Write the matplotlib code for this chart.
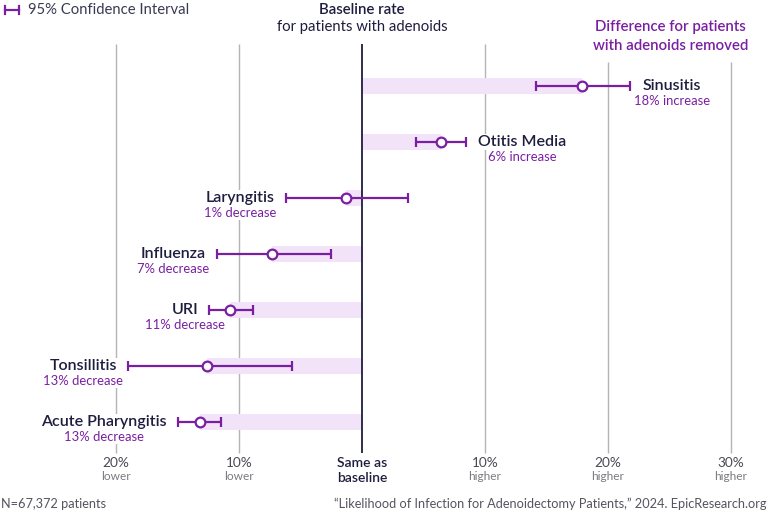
import numpy as np
import matplotlib
matplotlib.use("Agg")
import matplotlib.pyplot as plt

plt.rcParams['font.family'] = ['Lato', 'DejaVu Sans']

# Data (percent difference vs baseline)
# -------------------------------------------------------------------
conditions = ["Sinusitis", "Otitis Media", "Laryngitis", "Influenza",
              "URI", "Tonsillitis", "Acute Pharyngitis"]
diff = [17.9, 6.4, -1.3, -7.35, -10.7, -12.6, -13.2]
ci_low = [14.15, 4.4, -6.2, -11.8, -12.4, -19.0, -14.95]
ci_high = [21.8, 8.45, 3.7, -2.55, -8.85, -5.7, -11.5]
change_labels = ["18% increase", "6% increase", "1% decrease", "7% decrease",
                 "11% decrease", "13% decrease", "13% decrease"]

tick_vals = [-20, -10, 0, 10, 20, 30]
tick_top = ["20%", "10%", "Same as", "10%", "20%", "30%"]
tick_bottom = ["lower", "lower", "baseline", "higher", "higher", "higher"]

PURPLE = "#7a1fa2"
NAVY = "#1f1d3f"
BAR = "#f2e3f9"
GRID = "#b4b4b4"

# Frame
# -------------------------------------------------------------------
fig = plt.figure(figsize=(7.68, 5.12), dpi=100)
ax = fig.add_axes([0, 0, 1, 1])
ax.set_xlim(-362 / 12.3, (768 - 362) / 12.3)
ax.set_ylim((512 - 86) / 56, -86 / 56)
ax.axis("off")

rows = np.arange(len(conditions))

# grid lines
for v in tick_vals:
    if v == 0:
        ax.vlines(v, -0.75, 6.55, color=NAVY, lw=1.3, zorder=2)
    else:
        top = -0.43 if v >= 20 else -0.75
        ax.vlines(v, top, 6.55, color=GRID, lw=1.0, zorder=1)

# bars from baseline to estimate
ax.barh(rows, diff, height=0.3, color=BAR, zorder=1.5)

# confidence intervals
err = [np.array(diff) - np.array(ci_low), np.array(ci_high) - np.array(diff)]
ax.errorbar(diff, rows, xerr=err, fmt="o", color=PURPLE, ecolor=PURPLE,
            elinewidth=1.6, capsize=3.6, capthick=1.6, markersize=7,
            markerfacecolor="white", markeredgecolor=PURPLE,
            markeredgewidth=1.6, zorder=4)

# labels next to CI
fig.canvas.draw()
renderer = fig.canvas.get_renderer()
for i, name in enumerate(conditions):
    if diff[i] >= 0:
        xy, off, ha = (ci_high[i], i), 9, "left"
    else:
        xy, off, ha = (ci_low[i], i), -8, "right"
    t = ax.annotate(name, xy=xy, xytext=(off, 0), textcoords="offset points",
                    ha=ha, va="center", fontsize=11.5, fontweight="semibold",
                    color=NAVY, zorder=5,
                    bbox=dict(fc="white", ec="none", pad=1))
    bb = t.get_window_extent(renderer)
    cx = ax.transData.inverted().transform(((bb.x0 + bb.x1) / 2, 0))[0]
    ax.annotate(change_labels[i], xy=(cx, i), xytext=(0, -10.5),
                textcoords="offset points", ha="center", va="center",
                fontsize=9.4, color=PURPLE, zorder=5,
                bbox=dict(fc="white", ec="none", pad=1))

# x tick labels
xt = ax.get_xaxis_transform()
for v, a, b in zip(tick_vals, tick_top, tick_bottom):
    if v == 0:
        ax.text(v, 1 - 463 / 512, a, transform=xt, ha="center", va="center",
                fontsize=10, fontweight="semibold", color=NAVY)
        ax.text(v, 1 - 478 / 512, b, transform=xt, ha="center", va="center",
                fontsize=10, fontweight="semibold", color=NAVY)
    else:
        ax.text(v, 1 - 463 / 512, a, transform=xt, ha="center", va="center",
                fontsize=9.8, color="#4a4a55")
        ax.text(v, 1 - 477 / 512, b, transform=xt, ha="center", va="center",
                fontsize=8.6, color="#7a7a80")

# headers
ax.text(0, 1 - 10 / 512, "Baseline rate", transform=xt, ha="center",
        va="center", fontsize=10.8, fontweight="semibold", color=NAVY)
ax.text(0, 1 - 27 / 512, "for patients with adenoids", transform=xt,
        ha="center", va="center", fontsize=10.7, color=NAVY)
ax.text(25.1, 1 - 27 / 512, "Difference for patients", transform=xt,
        ha="center", va="center", fontsize=10.8, fontweight="semibold",
        color=PURPLE)
ax.text(25.1, 1 - 46 / 512, "with adenoids removed", transform=xt,
        ha="center", va="center", fontsize=10.8, fontweight="semibold",
        color=PURPLE)

# legend
fig.lines.append(plt.Line2D([5 / 768, 19 / 768], [1 - 10 / 512] * 2,
                            color=PURPLE, lw=1.6, transform=fig.transFigure))
for px in (5, 19):
    fig.lines.append(plt.Line2D([px / 768] * 2, [1 - 6 / 512, 1 - 14 / 512],
                                color=PURPLE, lw=1.6, transform=fig.transFigure))
fig.text(28 / 768, 1 - 10 / 512, "95% Confidence Interval", ha="left",
         va="center", fontsize=10.7, color="#3a3a55")

# footer
fig.text(1 / 768, 1 - 504 / 512, "N=67,372 patients", ha="left", va="center",
         fontsize=9.2, color="#555560")
fig.text(767 / 768, 1 - 504 / 512,
         "\u201cLikelihood of Infection for Adenoidectomy Patients,\u201d 2024. EpicResearch.org",
         ha="right", va="center", fontsize=9.15, color="#555560")

fig.savefig("out.png", dpi=100)
